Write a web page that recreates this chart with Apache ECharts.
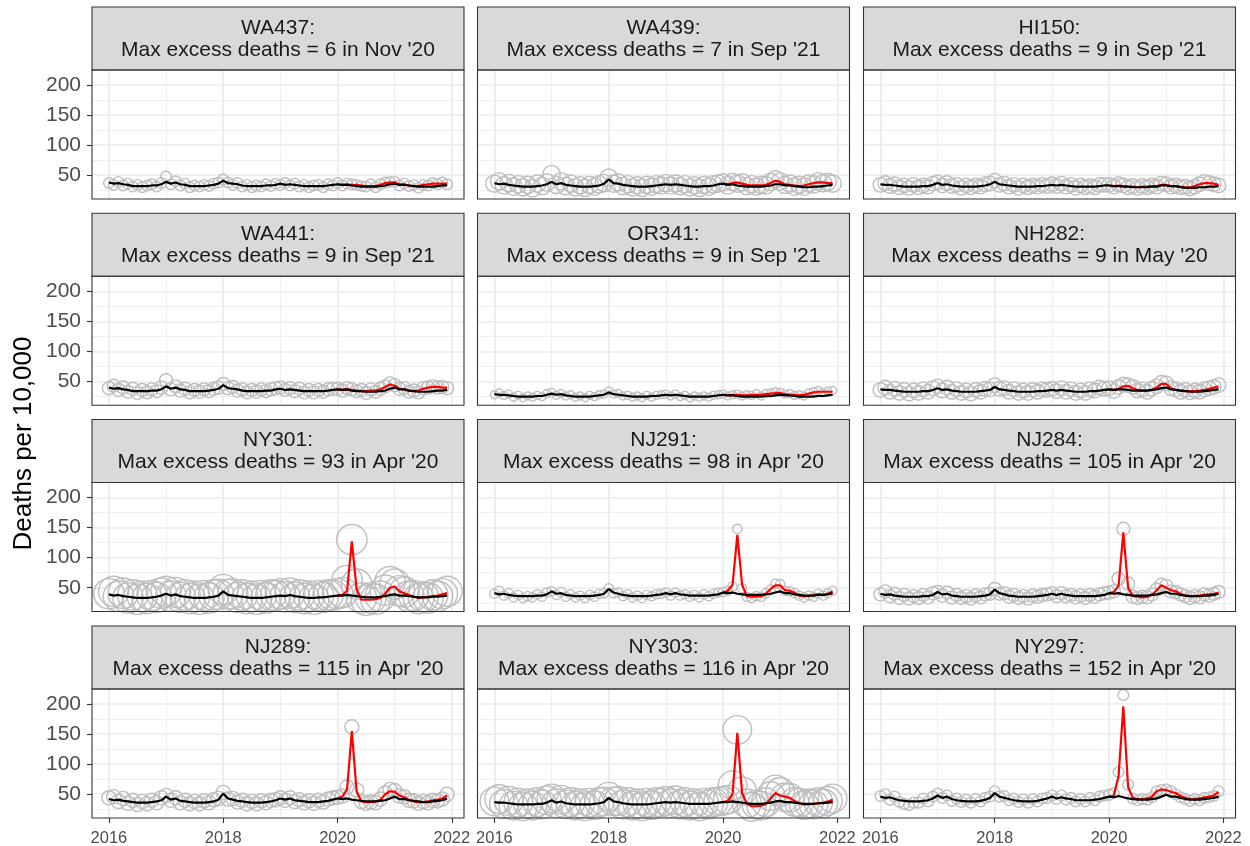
<!DOCTYPE html>
<html>
<head>
<meta charset="utf-8">
<script src="https://cdn.jsdelivr.net/npm/echarts@6/dist/echarts.min.js"></script>
<style>
  html, body { margin: 0; padding: 0; background: #fff; }
  #chart { width: 1250px; height: 846px; }
</style>
</head>
<body>
<div id="chart"></div>
<script>
// ---- data -------------------------------------------------------------
var years = [2016, 2017, 2018, 2019, 2020, 2021];
var xTicks = [2016, 2018, 2020, 2022];
var xMinor = [2017, 2019, 2021];
var yTicks = [50, 100, 150, 200];
var yMinor = [25, 75, 125, 175];

var panelIds = ['WA437', 'WA439', 'HI150', 'WA441', 'OR341', 'NH282',
                'NY301', 'NJ291', 'NJ284', 'NJ289', 'NY303', 'NY297'];
var maxExcess = [6, 7, 9, 9, 9, 9, 93, 98, 105, 115, 116, 152];
var maxMonth = ["Nov '20", "Sep '21", "Sep '21", "Sep '21", "Sep '21", "May '20",
                "Apr '20", "Apr '20", "Apr '20", "Apr '20", "Apr '20", "Apr '20"];
// size variable of the grey circles (one per area)
var pointWeight = [110, 300, 210, 170, 64, 210, 920, 85, 170, 200, 820, 115];

// expected deaths per 10,000 (black line), Jan 2016 .. Dec 2021
var expWA437 = [38,36,37,35,34,32,32,32,32,33,33,35, 39,36,38,35,34,32,32,32,32,33,34,36, 41,37,36,35,33,32,32,32,32,33,33,34, 36,34,35,34,33,32,32,32,32,32,33,34, 35,34,34,33,32,31,31,31,31,32,33,35, 36,34,34,33,32,31,31,31,31,32,33,33];
var expWA439 = [37,35,36,34,33,32,31,31,31,32,33,35, 39,35,37,34,33,32,31,31,31,32,33,36, 43,37,36,34,33,32,31,31,31,32,33,34, 35,34,35,34,33,32,31,31,32,32,33,35, 36,34,35,33,32,31,31,31,31,32,33,35, 35,33,33,32,31,30,30,31,31,32,33,34];
var expHI150 = [35,34,34,33,32,31,31,31,31,32,32,34, 37,34,35,33,32,31,31,31,31,32,33,35, 39,35,34,33,32,31,31,31,31,32,32,33, 34,33,34,33,32,31,31,31,31,31,32,33, 33,32,32,31,31,30,30,30,30,31,31,33, 33,32,32,30,29,29,29,30,30,31,31,32];
var expWA441 = [40,38,39,37,36,34,34,34,34,35,35,37, 42,38,40,37,36,34,34,34,34,35,36,38, 44,39,38,37,35,34,34,34,34,35,35,37, 38,36,37,36,35,34,34,34,34,34,35,36, 37,36,37,35,34,34,33,33,33,34,35,38, 40,37,37,35,34,33,33,33,34,35,35,36];
var expOR341 = [29,28,28,27,26,25,25,25,25,26,26,28, 30,28,29,27,26,25,25,25,25,26,27,28, 32,29,28,27,26,25,25,25,25,26,26,27, 28,27,28,27,26,25,25,25,25,25,26,27, 28,27,27,26,25,25,25,25,25,26,26,27, 28,27,27,26,25,25,25,25,26,26,27,28];
var expNH282 = [37,36,36,35,34,33,33,33,33,34,34,36, 39,36,37,35,34,33,33,33,33,34,35,36, 41,37,36,35,34,33,33,33,33,34,34,35, 36,35,36,35,34,33,33,33,34,34,35,36, 37,36,37,37,36,35,35,35,35,36,37,39, 40,37,36,35,34,33,33,33,34,35,36,37];
var expNY301 = [39,37,38,36,35,34,33,33,33,34,35,37, 40,37,39,36,35,34,33,33,33,34,35,37, 44,38,37,36,35,34,33,33,33,34,35,36, 37,36,38,36,35,34,33,33,34,34,35,36, 37,37,38,37,36,35,34,34,34,35,36,38, 39,37,37,36,35,34,34,34,35,35,36,37];
var expNJ291 = [41,39,40,38,37,36,36,36,36,37,37,39, 44,40,41,38,37,36,36,36,36,37,38,40, 48,42,40,38,37,36,36,36,36,37,38,39, 41,39,41,39,38,37,37,37,37,37,38,39, 42,41,42,40,39,38,38,38,38,39,40,42, 44,41,41,39,38,37,37,37,38,38,39,41];
var expNJ284 = [40,38,39,37,36,35,35,35,35,36,36,38, 43,39,40,37,36,35,35,35,35,36,37,39, 47,41,39,37,36,35,35,35,35,36,37,38, 40,38,40,38,37,36,36,36,36,36,37,38, 41,40,41,39,38,37,37,37,37,38,39,41, 43,40,40,38,37,36,36,36,37,37,38,40];
var expNJ289 = [42,40,41,39,38,37,36,36,36,37,38,40, 46,41,43,39,38,37,36,36,36,37,38,41, 51,43,41,39,38,37,36,36,36,37,38,40, 43,41,43,40,39,38,37,37,37,38,39,41, 43,42,43,41,40,39,38,38,38,39,40,43, 46,42,42,40,39,38,37,37,38,39,40,43];
var expNY303 = [37,36,36,35,34,33,33,33,33,34,34,36, 40,36,38,35,34,33,33,33,33,34,35,37, 44,38,37,35,34,33,33,33,33,34,35,36, 37,36,37,36,35,34,34,34,34,34,35,36, 37,37,38,37,36,35,34,34,34,35,36,38, 39,37,37,36,35,34,34,34,35,35,36,37];
var expNY297 = [46,44,45,42,40,39,38,38,38,39,40,43, 48,44,46,42,40,39,38,38,38,39,41,44, 52,46,44,42,40,39,38,38,38,39,41,43, 46,43,45,43,42,40,40,40,40,41,42,44, 46,45,47,45,43,42,41,41,41,42,43,46, 49,46,46,44,42,41,41,41,42,43,44,46];

// modelled deaths per 10,000 during the pandemic (red line), Jan 2020 .. Dec 2021
var fitWA437 = [35,34,35,34,34,33,32,32,32,34,37,38, 38,35,35,33,32,32,34,35,36,36,36,36];
var fitWA439 = [36,35,37,38,36,34,33,33,33,34,37,41, 39,35,34,33,32,33,35,37,38,38,37,37];
var fitHI150 = [33,32,33,32,31,31,30,31,31,32,32,34, 34,32,32,31,30,30,32,35,37,37,36,34];
var fitWA441 = [37,36,37,36,35,34,34,35,35,37,41,45, 43,38,37,35,34,35,38,40,41,41,40,40];
var fitOR341 = [28,27,28,28,27,27,28,28,28,29,30,31, 31,29,28,28,27,28,30,32,33,33,33,33];
var fitNH282 = [37,36,38,42,43,39,36,35,35,36,40,46, 46,39,36,35,34,34,34,35,36,38,40,42];
var fitNY301 = [37,38,45,127,48,30,30,30,31,33,40,50, 52,44,41,38,35,33,34,35,36,37,39,41];
var fitNJ291 = [42,45,55,138,55,36,35,35,36,40,48,54, 54,46,45,42,37,36,36,38,39,38,40,44];
var fitNJ284 = [41,43,53,142,50,36,35,34,35,38,46,54, 50,46,44,40,37,36,36,37,38,39,40,42];
var fitNJ289 = [43,46,58,155,55,38,37,37,38,41,50,55, 54,48,45,41,38,37,37,38,40,41,43,48];
var fitNY303 = [37,39,50,152,52,34,30,30,31,34,43,52, 48,46,44,39,35,33,33,34,35,36,38,41];
var fitNY297 = [46,48,80,196,62,44,42,42,43,46,55,58, 57,54,52,47,44,42,42,43,45,46,48,54];

// observed deaths per 10,000 (grey circles), Jan 2016 .. Dec 2021
var obsWA437 = [37,34,39,33,36,31,34,30,33,35,31,37, 48,35,40,33,36,30,33,31,34,32,36,38, 43,38,34,37,31,34,30,33,31,35,32,36, 34,37,33,36,31,34,30,33,34,30,35,33, 37,33,36,35,34,32,31,35,30,35,38,39, 39,33,36,32,34,29,34,33,37,35,38,35];
var obsWA439 = [36,40,33,37,31,35,30,34,28,36,32,38, 52,34,40,32,36,30,33,29,34,31,35,37, 46,36,38,32,35,30,33,29,34,31,35,33, 37,33,36,32,35,30,33,29,34,31,35,36, 38,33,39,36,38,32,35,31,34,33,39,43, 40,34,36,31,34,31,36,35,40,37,39,36];
var obsHI150 = [34,37,32,35,30,33,29,34,30,33,31,36, 38,33,37,32,34,29,33,30,33,31,35,36, 41,34,36,31,34,29,33,30,33,31,34,32, 35,32,36,31,34,29,33,30,32,30,34,34, 34,31,35,33,30,32,29,32,30,33,31,36, 35,31,33,30,31,28,31,35,39,37,35,33];
var obsWA441 = [39,43,36,40,33,38,31,36,32,37,34,40, 52,37,42,35,38,32,36,33,37,34,38,40, 46,39,41,35,37,32,36,33,37,34,37,39, 40,36,39,34,38,32,36,32,36,33,37,38, 38,35,39,37,34,36,31,37,33,38,42,47, 44,38,39,33,35,32,39,40,42,40,41,39];
var obsOR341 = [28,31,27,29,24,27,23,26,24,27,25,30, 32,27,30,26,28,24,26,23,27,25,28,29, 34,29,30,26,27,24,26,23,27,24,27,28, 29,26,29,25,27,23,26,24,26,24,27,28, 29,26,28,29,26,28,27,30,26,30,31,33, 32,29,30,27,28,26,31,33,35,32,34,35];
var obsNH282 = [36,40,33,38,31,36,30,35,31,37,33,39, 42,35,40,33,37,31,35,30,36,33,38,37, 44,38,39,33,37,31,35,31,36,33,37,36, 38,34,39,33,37,31,35,31,37,35,40,38, 39,34,41,45,44,41,35,37,33,38,42,48, 47,39,37,33,36,32,35,33,37,39,41,44];
var obsNY301 = [40,44,36,41,33,38,31,36,32,37,34,41, 44,36,42,34,38,32,36,31,37,33,38,39, 47,39,40,34,38,32,36,31,37,33,38,37, 40,35,41,34,38,32,36,31,37,34,38,38, 40,42,62,130,56,33,29,33,31,36,46,60, 56,45,43,36,37,32,35,33,38,36,40,44];
var obsNJ291 = [40,45,37,41,34,38,33,36,34,39,35,42, 44,38,43,35,39,34,37,33,38,35,40,41, 49,41,42,36,39,34,37,33,38,36,39,40, 42,37,42,37,39,35,38,34,39,36,40,42, 43,45,52,148,49,35,33,36,35,41,47,57, 56,45,44,41,37,34,37,35,40,37,41,45];
var obsNJ284 = [39,44,36,40,33,38,32,36,33,38,34,41, 43,37,42,34,38,33,36,32,37,34,39,40, 48,40,41,35,38,33,36,32,37,35,38,39, 41,36,41,36,38,34,37,33,38,35,39,41, 42,44,65,148,57,35,33,35,34,39,47,55, 53,44,43,39,36,33,36,34,39,37,40,43];
var obsNJ289 = [44,46,38,43,35,40,33,38,34,40,36,44, 48,40,44,36,40,34,38,34,39,36,41,43, 53,42,43,37,40,34,38,34,39,36,40,41, 44,40,44,38,41,36,39,35,40,37,42,44, 45,47,62,162,57,38,35,37,36,42,52,58, 56,47,46,40,39,35,38,36,40,39,42,50];
var obsNY303 = [38,42,34,39,31,36,30,35,31,37,33,40, 43,35,41,33,37,31,35,30,36,32,37,38, 46,38,39,33,37,31,35,30,36,32,37,36, 39,35,40,33,37,31,35,30,36,33,37,38, 39,41,65,157,55,35,29,33,31,37,47,58, 54,45,44,37,36,32,35,33,37,35,39,43];
var obsNY297 = [47,50,41,46,37,34,32,36,36,43,38,46, 51,44,48,39,43,37,41,36,42,38,44,46, 55,46,47,40,43,37,41,36,42,38,43,44, 48,42,48,41,44,38,42,38,44,40,46,48, 49,52,87,215,66,43,40,42,41,45,55,57, 58,55,50,45,42,39,42,40,44,45,47,55];

var expected = [expWA437, expWA439, expHI150, expWA441, expOR341, expNH282, expNY301, expNJ291, expNJ284, expNJ289, expNY303, expNY297];
var fitted = [fitWA437, fitWA439, fitHI150, fitWA441, fitOR341, fitNH282, fitNY301, fitNJ291, fitNJ284, fitNJ289, fitNY303, fitNY297];
var observed = [obsWA437, obsWA439, obsHI150, obsWA441, obsOR341, obsNH282, obsNY301, obsNJ291, obsNJ284, obsNJ289, obsNY303, obsNY297];

// ---- layout -----------------------------------------------------------
var FONT = '"Liberation Sans", Arial, sans-serif';
var colLeft = [92, 477.5, 863.5];
var rowTop = [70, 276.3, 482.5, 689];
var panelW = 372, panelH = 129, stripH = 63;

// month positions as decimal years
var monthX = [];
years.forEach(function (y) {
  for (var m = 0; m < 12; m++) monthX.push(y + m / 12);
});
var span = monthX[monthX.length - 1] - monthX[0];
var X_MIN = monthX[0] - 0.05 * span;
var X_MAX = monthX[monthX.length - 1] + 0.05 * span;
var Y_MIN = 10.5, Y_MAX = 225;

function gridLines() {
  var out = [];
  var major = { color: '#ebebeb', width: 1.7, type: 'solid' };
  var minor = { color: '#ebebeb', width: 0.8, type: 'solid' };
  xMinor.forEach(function (v) { out.push({ xAxis: v, lineStyle: minor }); });
  yMinor.forEach(function (v) { out.push({ yAxis: v, lineStyle: minor }); });
  xTicks.forEach(function (v) { out.push({ xAxis: v, lineStyle: major }); });
  yTicks.forEach(function (v) { out.push({ yAxis: v, lineStyle: major }); });
  return out;
}

function plain(v) { return String(Math.round(v)); }

var option = { animation: false, backgroundColor: '#fff', grid: [], xAxis: [], yAxis: [], series: [], graphic: [] };

panelIds.forEach(function (id, i) {
  var r = Math.floor(i / 3), c = i % 3;
  var left = colLeft[c], top = rowTop[r];
  var bottomRow = r === 3, leftCol = c === 0;

  option.grid.push({ left: left, top: top, width: panelW, height: panelH,
    containLabel: false, outerBoundsMode: 'none', show: false });

  option.xAxis.push({
    gridIndex: i, type: 'value', min: X_MIN, max: X_MAX,
    axisLine: { show: false }, splitLine: { show: false },
    axisTick: { show: bottomRow, length: 5, customValues: xTicks, lineStyle: { color: '#333333', width: 1.1 } },
    axisLabel: { show: bottomRow, customValues: xTicks, formatter: plain, margin: 12,
      color: '#4d4d4d', fontSize: 16.5, fontFamily: FONT }
  });
  option.yAxis.push({
    gridIndex: i, type: 'value', min: Y_MIN, max: Y_MAX,
    axisLine: { show: false }, splitLine: { show: false },
    axisTick: { show: leftCol, length: 5, customValues: yTicks, lineStyle: { color: '#333333', width: 1.1 } },
    axisLabel: { show: leftCol, customValues: yTicks, formatter: plain, margin: 11,
      color: '#4d4d4d', fontSize: 21, fontFamily: FONT }
  });

  // panel grid lines, kept underneath the data
  option.series.push({
    type: 'line', xAxisIndex: i, yAxisIndex: i, data: [], z: 1, silent: true,
    markLine: { z: 1, silent: true, symbol: ['none', 'none'], label: { show: false },
      emphasis: { disabled: true }, animation: false, data: gridLines() }
  });
  // observed (grey circles)
  option.series.push({
    type: 'scatter', xAxisIndex: i, yAxisIndex: i, z: 2, silent: true,
    symbol: 'circle', symbolSize: Math.sqrt(pointWeight[i]),
    itemStyle: { color: 'rgba(0,0,0,0)', borderColor: '#bebebe', borderWidth: 1.4, opacity: 1 },
    data: observed[i].map(function (v, k) { return [monthX[k], v]; })
  });
  // pandemic model (red)
  option.series.push({
    type: 'line', xAxisIndex: i, yAxisIndex: i, z: 3, silent: true,
    symbol: 'none', showSymbol: false,
    lineStyle: { color: '#ff0000', width: 2.2 }, itemStyle: { color: '#ff0000' },
    data: fitted[i].map(function (v, k) { return [monthX[48 + k], v]; })
  });
  // expected (black)
  option.series.push({
    type: 'line', xAxisIndex: i, yAxisIndex: i, z: 4, silent: true,
    symbol: 'none', showSymbol: false,
    lineStyle: { color: '#000000', width: 2.2 }, itemStyle: { color: '#000000' },
    data: expected[i].map(function (v, k) { return [monthX[k], v]; })
  });

  // strip header
  option.graphic.push({
    type: 'rect', z: 10, silent: true,
    shape: { x: left, y: top - stripH, width: panelW, height: stripH },
    style: { fill: '#d9d9d9', stroke: '#333333', lineWidth: 1.1 }
  });
  option.graphic.push({
    type: 'text', z: 11, silent: true, x: left + panelW / 2, y: top - stripH / 2 + 0.6,
    style: {
      text: id + ':\nMax excess deaths = ' + maxExcess[i] + ' in ' + maxMonth[i],
      fill: '#1a1a1a', font: '21px ' + FONT, lineHeight: 22,
      align: 'center', verticalAlign: 'middle', textAlign: 'center', textVerticalAlign: 'middle'
    }
  });
  // panel border
  option.graphic.push({
    type: 'rect', z: 10, silent: true,
    shape: { x: left, y: top, width: panelW, height: panelH },
    style: { fill: 'none', stroke: '#333333', lineWidth: 1.1 }
  });
});

option.graphic.push({
  type: 'text', z: 11, silent: true, x: 24, y: 443.5, rotation: Math.PI / 2,
  style: { text: 'Deaths per 10,000', fill: '#000000', font: '26px ' + FONT,
    align: 'center', verticalAlign: 'middle', textAlign: 'center', textVerticalAlign: 'middle' }
});

var chart = echarts.init(document.getElementById('chart'), null, { renderer: 'canvas' });
chart.setOption(option);
</script>
</body>
</html>
